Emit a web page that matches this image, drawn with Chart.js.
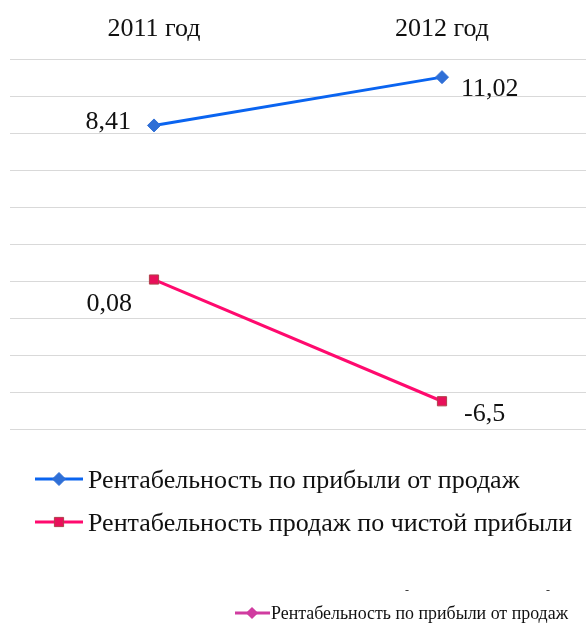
<!DOCTYPE html>
<html>
<head>
<meta charset="utf-8">
<script src="https://cdn.jsdelivr.net/npm/chart.js@4/dist/chart.umd.min.js"></script>
<style>
  html, body { margin: 0; padding: 0; background: #ffffff; overflow: hidden; }
  #wrap { position: relative; width: 586px; height: 628px; }
  canvas { display: block; }
</style>
</head>
<body>
<div id="wrap"><canvas id="c" width="586" height="628"></canvas></div>
<script>
// ---- data ----
const categories = ['2011 год', '2012 год'];
const salesProfitability = [8.41, 11.02];
const netProfitability = [0.08, -6.5];
const seriesNames = ['Рентабельность по прибыли от продаж', 'Рентабельность продаж по чистой прибыли'];
const valueLabels1 = ['8,41', '11,02'];
const valueLabels2 = ['0,08', '-6,5'];
const extraLegendName = 'Рентабельность по прибыли от продаж';

const SERIF = '"Liberation Serif", "DejaVu Serif", serif';

// data label placement (style): [align, dx, dy(baseline)]
const labelPlacement = [
  [['right', -23, 4], ['left', 19, 19]],
  [['right', -22, 31], ['left', 22, 20]]
];

const dataLabelPlugin = {
  id: 'dataLabels',
  afterDatasetsDraw(chart) {
    const ctx = chart.ctx;
    ctx.save();
    ctx.font = '26px ' + SERIF;
    ctx.fillStyle = '#111111';
    ctx.textBaseline = 'alphabetic';
    chart.data.datasets.forEach((ds, di) => {
      const meta = chart.getDatasetMeta(di);
      meta.data.forEach((pt, i) => {
        const [align, dx, dy] = labelPlacement[di][i];
        ctx.textAlign = align;
        ctx.fillText(ds.valueLabels[i], pt.x + dx, pt.y + dy);
      });
    });
    ctx.restore();
  }
};

const legendPlugin = {
  id: 'customLegend',
  afterDraw(chart) {
    const ctx = chart.ctx;
    ctx.save();
    const items = [
      { y: 479, ds: chart.data.datasets[0] },
      { y: 522, ds: chart.data.datasets[1] }
    ];
    items.forEach(it => {
      const ds = it.ds;
      ctx.strokeStyle = ds.borderColor;
      ctx.lineWidth = 3;
      ctx.beginPath();
      ctx.moveTo(35, it.y);
      ctx.lineTo(83, it.y);
      ctx.stroke();
      ctx.fillStyle = ds.pointBackgroundColor;
      ctx.strokeStyle = ds.pointBorderColor;
      ctx.lineWidth = 1;
      Chart.helpers.drawPoint(ctx, { pointStyle: ds.pointStyle, radius: ds.pointRadius, borderWidth: 1 }, 59, it.y);
      ctx.fillStyle = '#111111';
      ctx.font = '26px ' + SERIF;
      ctx.textAlign = 'left';
      ctx.textBaseline = 'alphabetic';
      ctx.fillText(ds.label, 88, it.y + 9);
    });

    // partial legend of a neighbouring chart at the bottom edge
    ctx.fillStyle = '#333333';
    ctx.font = '12px ' + SERIF;
    ctx.textAlign = 'center';
    ctx.fillText('-', 407, 594);
    ctx.fillText('-', 548, 594);

    ctx.strokeStyle = '#d03ca0';
    ctx.lineWidth = 3;
    ctx.beginPath();
    ctx.moveTo(235, 613);
    ctx.lineTo(270, 613);
    ctx.stroke();
    ctx.fillStyle = '#d03ca0';
    ctx.strokeStyle = '#d03ca0';
    Chart.helpers.drawPoint(ctx, { pointStyle: 'rectRot', radius: 4, borderWidth: 1 }, 252, 613);

    ctx.fillStyle = '#111111';
    ctx.font = '18px ' + SERIF;
    ctx.textAlign = 'left';
    const w = ctx.measureText(extraLegendName).width;
    const target = 297;
    ctx.translate(271, 619);
    ctx.scale(target / w, 1);
    ctx.fillText(extraLegendName, 0, 0);
    ctx.restore();
  }
};

new Chart(document.getElementById('c'), {
  type: 'line',
  data: {
    labels: categories,
    datasets: [
      {
        label: seriesNames[0],
        data: salesProfitability,
        valueLabels: valueLabels1,
        borderColor: '#0a64f0',
        borderWidth: 3,
        pointStyle: 'rectRot',
        pointRadius: 6.5,
        pointBackgroundColor: '#2f6fd6',
        pointBorderColor: '#2f6fd6',
        pointBorderWidth: 1,
        tension: 0
      },
      {
        label: seriesNames[1],
        data: netProfitability,
        valueLabels: valueLabels2,
        borderColor: '#ff0a6e',
        borderWidth: 3,
        pointStyle: 'rect',
        pointRadius: 6.5,
        pointBackgroundColor: '#e8105a',
        pointBorderColor: '#b0404a',
        pointBorderWidth: 1,
        tension: 0
      }
    ]
  },
  options: {
    responsive: false,
    animation: false,
    devicePixelRatio: 1,
    layout: { autoPadding: false, padding: { left: 10, right: 0, top: 16, bottom: 199 } },
    plugins: {
      legend: { display: false },
      tooltip: { enabled: false },
      title: { display: false }
    },
    scales: {
      x: {
        position: 'top',
        offset: true,
        grid: { display: false, drawTicks: false },
        border: { display: false },
        ticks: {
          color: '#111111',
          font: { family: SERIF, size: 26 },
          padding: 14
        },
        afterFit(scale) { scale.height = 43; scale.paddingRight = 0; scale.paddingLeft = 0; }
      },
      y: {
        min: -8,
        max: 12,
        ticks: { display: false, stepSize: 2 },
        grid: { color: '#d9d9d9', lineWidth: 1, drawTicks: false },
        border: { display: false }
      }
    }
  },
  plugins: [dataLabelPlugin, legendPlugin]
});
</script>
</body>
</html>
